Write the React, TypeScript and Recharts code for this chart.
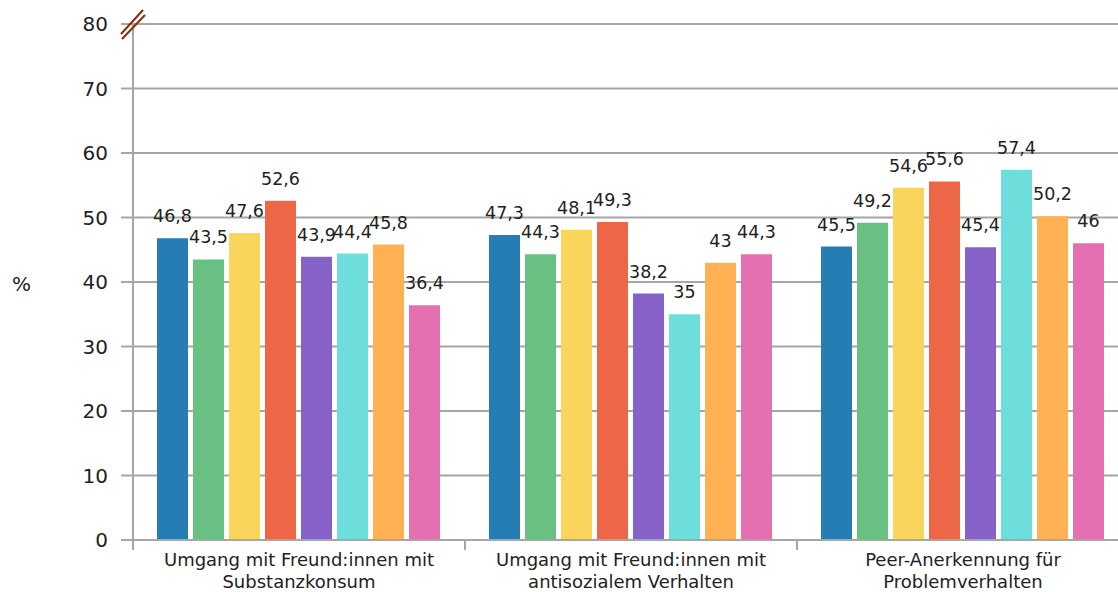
import React from 'react';
import { BarChart, Bar, XAxis, YAxis, CartesianGrid, LabelList } from 'recharts';

const categories = [
  'Umgang mit Freund:innen mit\nSubstanzkonsum',
  'Umgang mit Freund:innen mit\nantisozialem Verhalten',
  'Peer-Anerkennung für\nProblemverhalten',
];
const series1 = [46.8, 47.3, 45.5];
const series2 = [43.5, 44.3, 49.2];
const series3 = [47.6, 48.1, 54.6];
const series4 = [52.6, 49.3, 55.6];
const series5 = [43.9, 38.2, 45.4];
const series6 = [44.4, 35, 57.4];
const series7 = [45.8, 43, 50.2];
const series8 = [36.4, 44.3, 46];
const yTicks = [0, 10, 20, 30, 40, 50, 60, 70, 80];

const seriesList = [series1, series2, series3, series4, series5, series6, series7, series8];
const colors = ['#267db3', '#68c182', '#fad55c', '#ed6647', '#8561c8', '#6ddedc', '#ffb153', '#e470b2'];

const data = categories.map((cat, i) => {
  const row: Record<string, any> = { cat };
  seriesList.forEach((s, k) => {
    row['s' + (k + 1)] = s[i];
  });
  return row;
});

const FONT = 'DejaVu Sans';
const GRID = '#a6a6a6';
const TEXT = '#222';

const fmt = (v: any) => String(v).replace('.', ',');

const YTick = (props: any) => {
  const { x, y, payload } = props;
  return (
    <g>
      <line x1={x - 12} x2={x} y1={y} y2={y} stroke={GRID} strokeWidth={2} />
      <text x={x - 25} y={y} dy="0.36em" textAnchor="end" fontSize={20} fontFamily={FONT} fill={TEXT}>
        {payload.value}
      </text>
      {payload.value === 80 && (
        <g stroke="#8b2a0a" strokeWidth={2}>
          <line x1={x - 12} y1={y + 10} x2={x + 10} y2={y - 14} />
          <line x1={x - 11} y1={y + 15} x2={x + 12} y2={y - 9} />
        </g>
      )}
    </g>
  );
};

const XTick = (props: any) => {
  const { x, y, payload } = props;
  const half = payload.offset || 166;
  const lines = String(payload.value).split('\n');
  return (
    <g>
      <line x1={x - half} x2={x - half} y1={y} y2={y + 10} stroke={GRID} strokeWidth={2} />
      <text x={x} y={y + 26} textAnchor="middle" fontSize={18} fontFamily={FONT} fill={TEXT}>
        {lines.map((l, i) => (
          <tspan key={i} x={x} dy={i === 0 ? 0 : 22}>
            {l}
          </tspan>
        ))}
      </text>
    </g>
  );
};

export default function App() {
  return (
    <div style={{ position: 'absolute', left: 8, top: 8, width: 1110, height: 584, overflow: 'hidden' }}>
      <BarChart
        width={1121}
        height={584}
        data={data}
        margin={{ top: 16, right: 0, bottom: 0, left: 0 }}
        barCategoryGap={24}
        barGap={5}
      >
        <CartesianGrid vertical={false} stroke={GRID} strokeWidth={2} />
        <XAxis
          dataKey="cat"
          height={52}
          tickSize={0}
          tickMargin={0}
          tickLine={false}
          axisLine={{ stroke: GRID, strokeWidth: 2 }}
          tick={<XTick />}
          interval={0}
        />
        <YAxis
          width={125}
          domain={[0, 80]}
          ticks={yTicks}
          tickSize={0}
          tickMargin={0}
          tickLine={false}
          axisLine={{ stroke: GRID, strokeWidth: 2 }}
          tick={<YTick />}
          interval={0}
          label={{ value: '%', position: 'insideLeft', offset: 4, dy: 2, fontSize: 20, fontFamily: FONT, fill: TEXT }}
        />
        {colors.map((c, k) => (
          <Bar key={k} dataKey={'s' + (k + 1)} fill={c} isAnimationActive={false}>
            <LabelList
              dataKey={'s' + (k + 1)}
              position="top"
              offset={16}
              formatter={fmt}
              fontSize={17.5}
              fontFamily={FONT}
              fill={TEXT}
            />
          </Bar>
        ))}
      </BarChart>
    </div>
  );
}
